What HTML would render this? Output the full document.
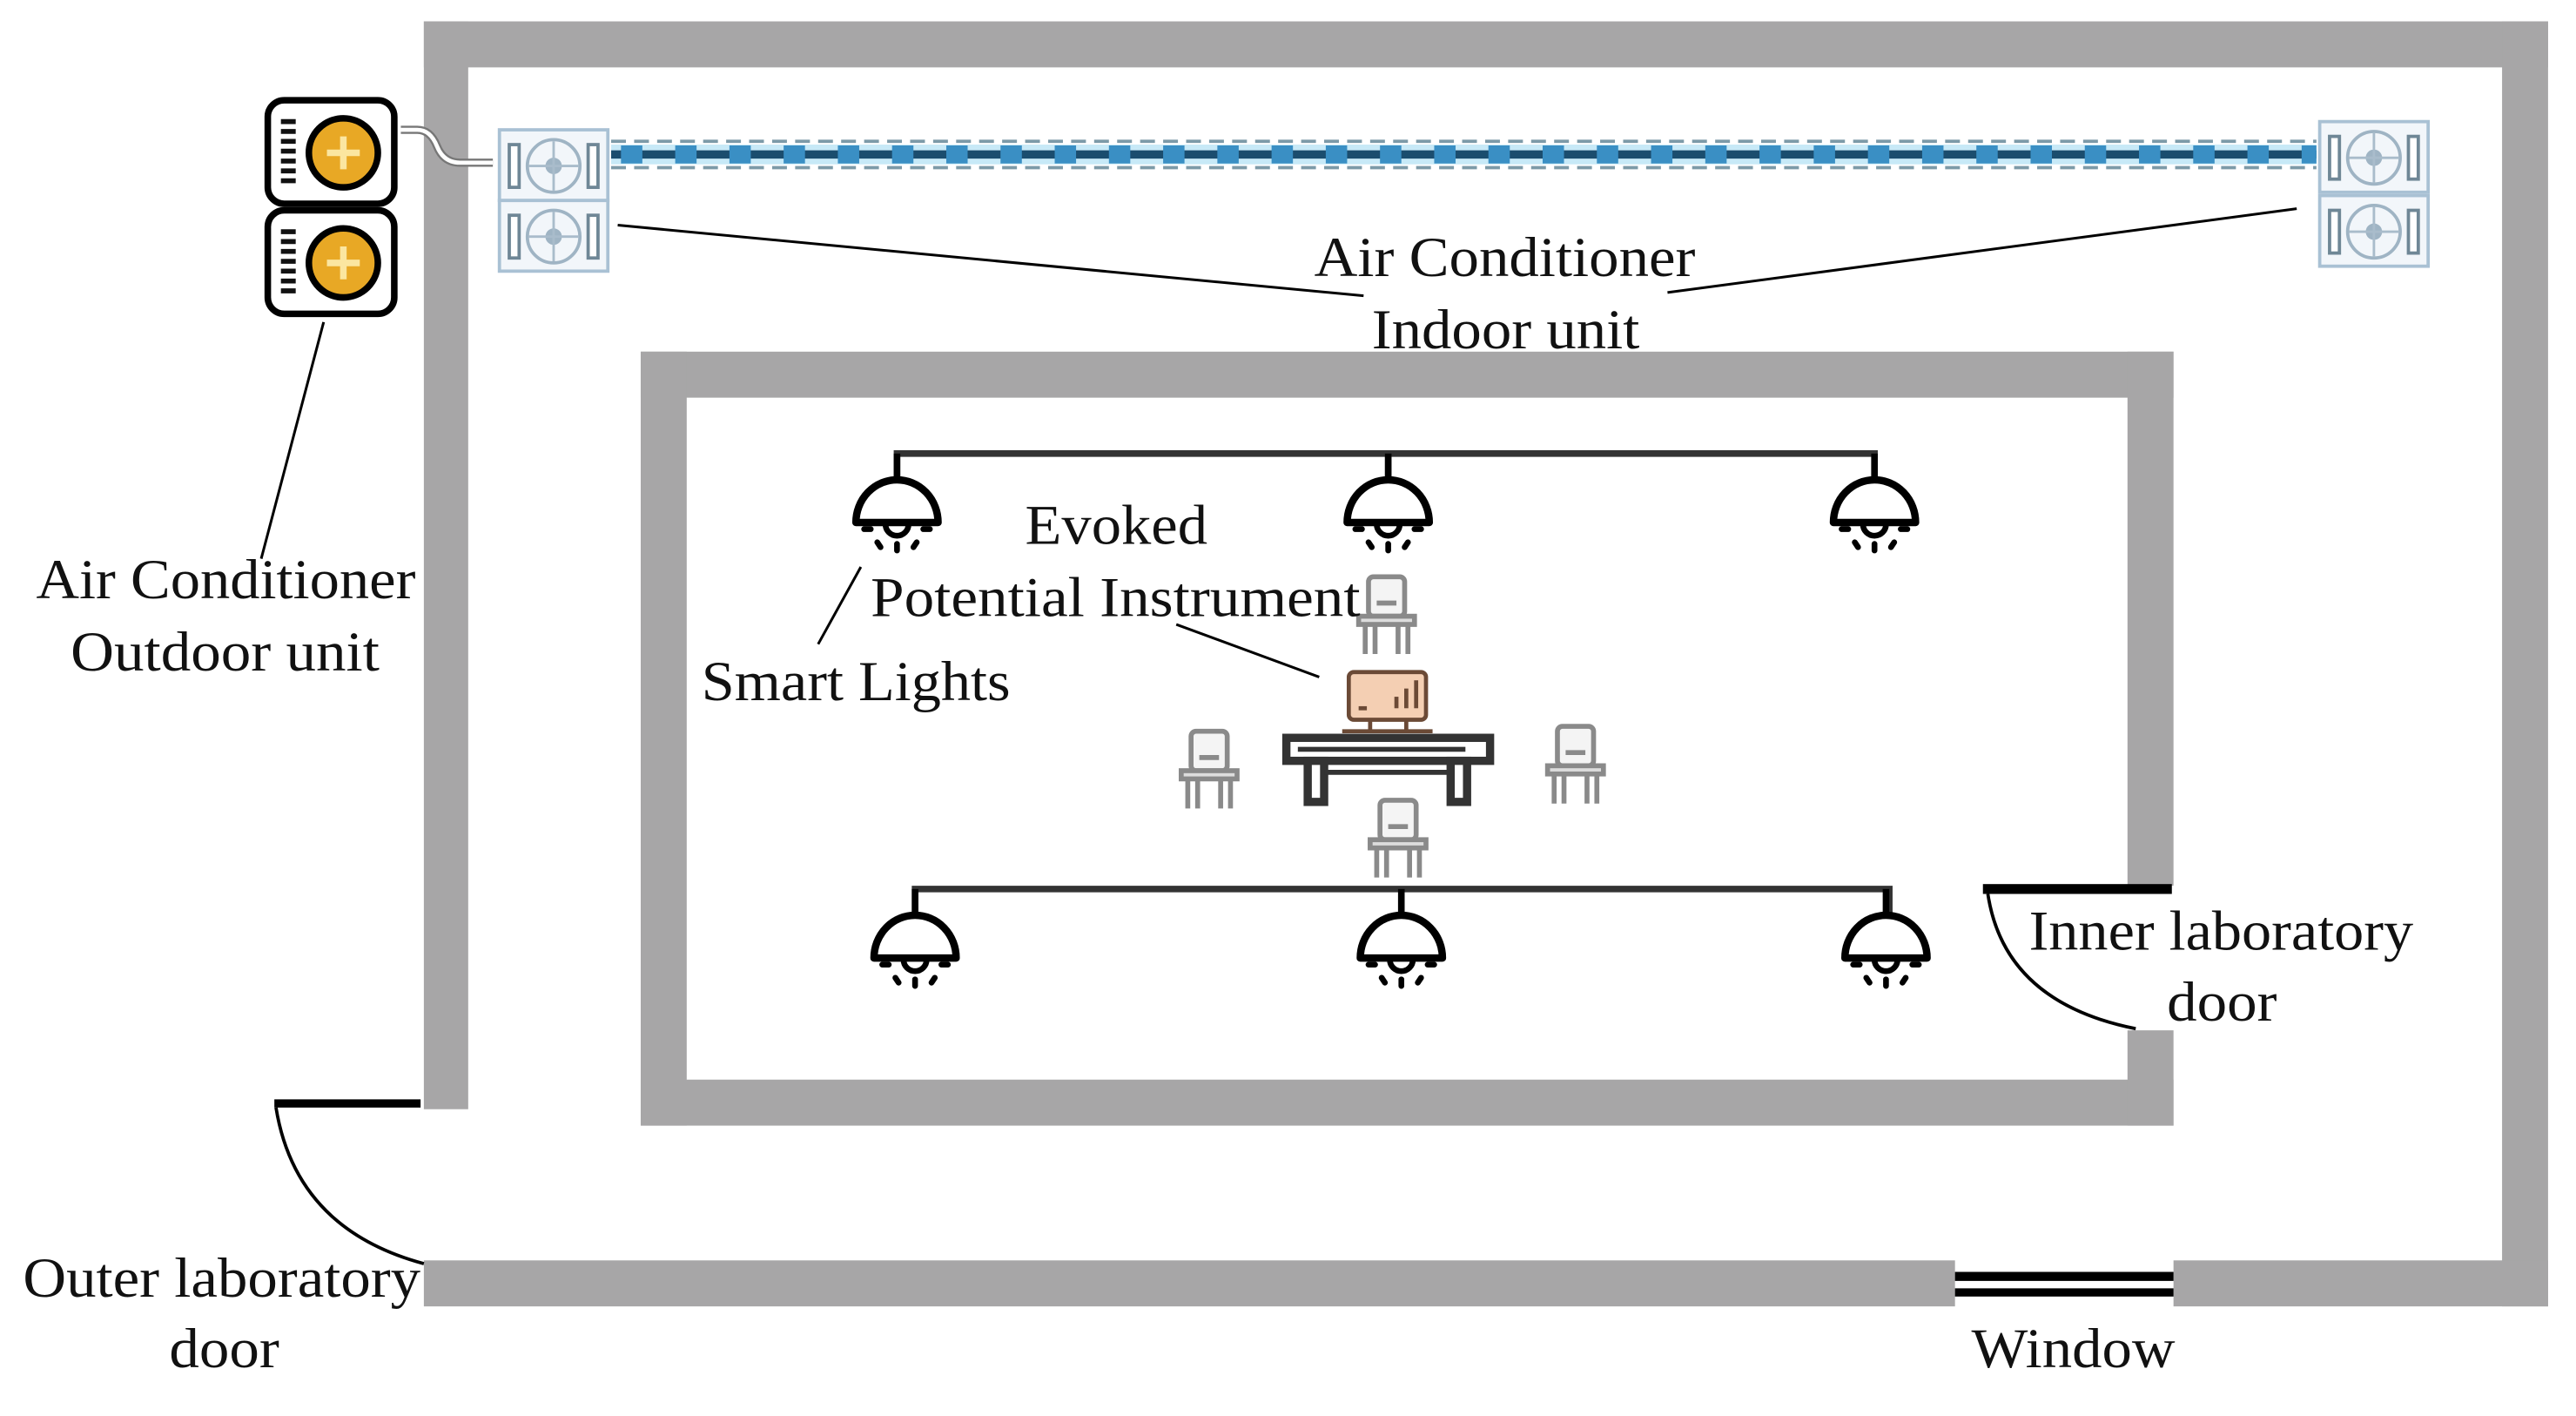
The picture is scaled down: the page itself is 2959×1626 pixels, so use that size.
<!DOCTYPE html>
<html><head><meta charset="utf-8"><style>html,body{margin:0;padding:0;background:#fff}svg{display:block}</style></head>
<body>
<svg width="2959" height="1626" viewBox="0 0 1568 861.7" preserveAspectRatio="none" xmlns="http://www.w3.org/2000/svg">
<defs>
<g id="lamp">
<line x1="0" y1="0" x2="0" y2="16" stroke="#000" stroke-width="4"/>
<path d="M-25,42 A25,26 0 0 1 25,42 Z" fill="#fff" stroke="#000" stroke-width="4.5" stroke-linejoin="round"/>
<path d="M-7,43 A7,7 0 0 0 7,43" fill="none" stroke="#000" stroke-width="3.5"/>
<g stroke="#000" stroke-width="3.5" stroke-linecap="round">
<line x1="-20" y1="46" x2="-16" y2="46"/>
<line x1="16" y1="46" x2="20" y2="46"/>
<line x1="-12" y1="54" x2="-10" y2="57"/>
<line x1="0" y1="55" x2="0" y2="59"/>
<line x1="12" y1="54" x2="10" y2="57"/>
</g>
</g>
<g id="chair" fill="none" stroke="#8a8a8a" stroke-width="3">
<rect x="-11" y="-24" width="22" height="24" rx="3" fill="#f4f4f4"/>
<line x1="-6" y1="-8" x2="6" y2="-8" stroke-width="3"/>
<rect x="-17" y="0" width="34" height="5" fill="#ddd"/>
<line x1="-13" y1="5" x2="-13" y2="23"/>
<line x1="-7" y1="5" x2="-7" y2="23"/>
<line x1="7" y1="5" x2="7" y2="23"/>
<line x1="13" y1="5" x2="13" y2="23"/>
</g>
<g id="iu">
<rect x="0" y="0" width="66" height="43" fill="#f2f6fa" stroke="#a9c1d4" stroke-width="2"/>
<rect x="6" y="9" width="6" height="26" fill="#fff" stroke="#6f8796" stroke-width="2"/>
<rect x="54" y="9" width="6" height="26" fill="#fff" stroke="#6f8796" stroke-width="2"/>
<circle cx="33" cy="22" r="16" fill="none" stroke="#9fb4c4" stroke-width="2"/>
<circle cx="33" cy="22" r="5" fill="#9fb4c4"/>
<g stroke="#a9bccb" stroke-width="1.5"><line x1="33" y1="7" x2="33" y2="37"/><line x1="18" y1="22" x2="48" y2="22"/></g>
</g>
<g id="ou">
<rect x="2" y="2" width="77" height="63" rx="10" fill="#fff" stroke="#000" stroke-width="4"/>
<g stroke="#111" stroke-width="3">
<line x1="10" y1="15" x2="19" y2="15"/><line x1="10" y1="21" x2="19" y2="21"/><line x1="10" y1="27" x2="19" y2="27"/><line x1="10" y1="33" x2="19" y2="33"/><line x1="10" y1="39" x2="19" y2="39"/><line x1="10" y1="45" x2="19" y2="45"/><line x1="10" y1="51" x2="19" y2="51"/>
</g>
<circle cx="48" cy="34" r="21" fill="#e8a825" stroke="#000" stroke-width="4"/>
<path d="M48,24 v20 M38,34 h20" stroke="#fbe6a0" stroke-width="4"/>
</g>
</defs>

<g fill="#a7a6a7">
<rect x="258" y="13" width="1293" height="28"/>
<rect x="258" y="13" width="27" height="662"/>
<rect x="1523" y="13" width="28" height="782"/>
<rect x="258" y="767" width="932" height="28"/>
<rect x="1323" y="767" width="228" height="28"/>
</g>
<rect x="1190" y="774" width="133" height="5.5" fill="#000"/>
<rect x="1190" y="784" width="133" height="5" fill="#000"/>
<rect x="167" y="669" width="89" height="5" fill="#000"/>
<path d="M168,674 Q180,748 258,769" fill="none" stroke="#000" stroke-width="2"/>

<g fill="#a7a6a7">
<rect x="390" y="214" width="933" height="28"/>
<rect x="390" y="214" width="28" height="471"/>
<rect x="390" y="657" width="933" height="28"/>
<rect x="1295" y="214" width="28" height="325"/>
<rect x="1295" y="627" width="28" height="58"/>
</g>
<rect x="1207" y="538" width="115" height="6" fill="#000"/>
<path d="M1210,544 Q1220,610 1300,626" fill="none" stroke="#000" stroke-width="2"/>

<use href="#ou" x="161" y="59"/>
<use href="#ou" x="161" y="126"/>
<path d="M244,79 h10 q8,0 12,10 q4,10 14,10 h20" fill="none" stroke="#777" stroke-width="5"/>
<path d="M244,79 h10 q8,0 12,10 q4,10 14,10 h20" fill="none" stroke="#fff" stroke-width="2.5"/>

<use href="#iu" x="304" y="79"/>
<use href="#iu" x="304" y="122"/>
<use href="#iu" x="1412" y="74"/>
<use href="#iu" x="1412" y="119"/>

<rect x="372" y="88" width="1038" height="12" fill="#c7e9f7"/>
<line x1="372" y1="86" x2="1410" y2="86" stroke="#7c9aa8" stroke-width="2" stroke-dasharray="9,5"/>
<line x1="372" y1="102" x2="1410" y2="102" stroke="#7c9aa8" stroke-width="2" stroke-dasharray="9,5"/>
<line x1="372" y1="94" x2="1410" y2="94" stroke="#1b4d6e" stroke-width="5"/>
<line x1="378" y1="94" x2="1410" y2="94" stroke="#3a8fc4" stroke-width="11" stroke-dasharray="13,20"/>

<g stroke="#000" stroke-width="1.6">
<line x1="376" y1="137" x2="830" y2="180"/>
<line x1="1398" y1="127" x2="1015" y2="178"/>
<line x1="197" y1="196" x2="159" y2="340"/>
<line x1="524" y1="345" x2="498" y2="392"/>
<line x1="716" y1="380" x2="803" y2="412"/>
</g>

<path d="M546,292 V276 H1141 V292 M845,276 V292" fill="none" stroke="#333" stroke-width="4"/>
<use href="#lamp" x="546" y="276"/>
<use href="#lamp" x="845" y="276"/>
<use href="#lamp" x="1141" y="276"/>
<path d="M557,557 V541 H1150 V557 M853,541 V557" fill="none" stroke="#333" stroke-width="4"/>
<use href="#lamp" x="557" y="541"/>
<use href="#lamp" x="853" y="541"/>
<use href="#lamp" x="1148" y="541"/>

<use href="#chair" x="844" y="375"/>
<use href="#chair" x="736" y="469"/>
<use href="#chair" x="959" y="466"/>
<use href="#chair" x="851" y="511"/>

<rect x="821" y="409" width="47" height="29" rx="3" fill="#f4cfb3" stroke="#6b4a36" stroke-width="2.5"/>
<g stroke="#6b4a36" stroke-width="2.5"><line x1="827" y1="431" x2="832" y2="431"/><line x1="850" y1="431" x2="850" y2="424"/><line x1="856" y1="431" x2="856" y2="419"/><line x1="862" y1="431" x2="862" y2="414"/><line x1="817" y1="445" x2="872" y2="445"/><line x1="834" y1="438" x2="834" y2="445"/><line x1="856" y1="438" x2="856" y2="445"/></g>
<rect x="783" y="449" width="124" height="14" fill="#fff" stroke="#333" stroke-width="5"/>
<line x1="790" y1="456" x2="892" y2="456" stroke="#333" stroke-width="3"/>
<rect x="796" y="463" width="10" height="25" fill="#fff" stroke="#333" stroke-width="5"/>
<rect x="883" y="463" width="10" height="25" fill="#fff" stroke="#333" stroke-width="5"/>
<line x1="806" y1="470" x2="883" y2="470" stroke="#333" stroke-width="3"/>

<g font-family="'Liberation Serif', serif" font-size="34" fill="#111">
<text x="800" y="168" textLength="232" lengthAdjust="spacingAndGlyphs">Air Conditioner</text>
<text x="835" y="212" textLength="163" lengthAdjust="spacingAndGlyphs">Indoor unit</text>
<text x="22" y="364" textLength="231" lengthAdjust="spacingAndGlyphs">Air Conditioner</text>
<text x="43" y="408" textLength="188" lengthAdjust="spacingAndGlyphs">Outdoor unit</text>
<text x="624" y="331" textLength="111" lengthAdjust="spacingAndGlyphs">Evoked</text>
<text x="530" y="375" textLength="298" lengthAdjust="spacingAndGlyphs">Potential Instrument</text>
<text x="427" y="426" textLength="188" lengthAdjust="spacingAndGlyphs">Smart Lights</text>
<text x="1235" y="578" textLength="234" lengthAdjust="spacingAndGlyphs">Inner laboratory</text>
<text x="1319" y="621" textLength="67" lengthAdjust="spacingAndGlyphs">door</text>
<text x="14" y="789" textLength="242" lengthAdjust="spacingAndGlyphs">Outer laboratory</text>
<text x="103" y="832" textLength="67" lengthAdjust="spacingAndGlyphs">door</text>
<text x="1200" y="832" textLength="124" lengthAdjust="spacingAndGlyphs">Window</text>
</g>
</svg>
</body></html>
